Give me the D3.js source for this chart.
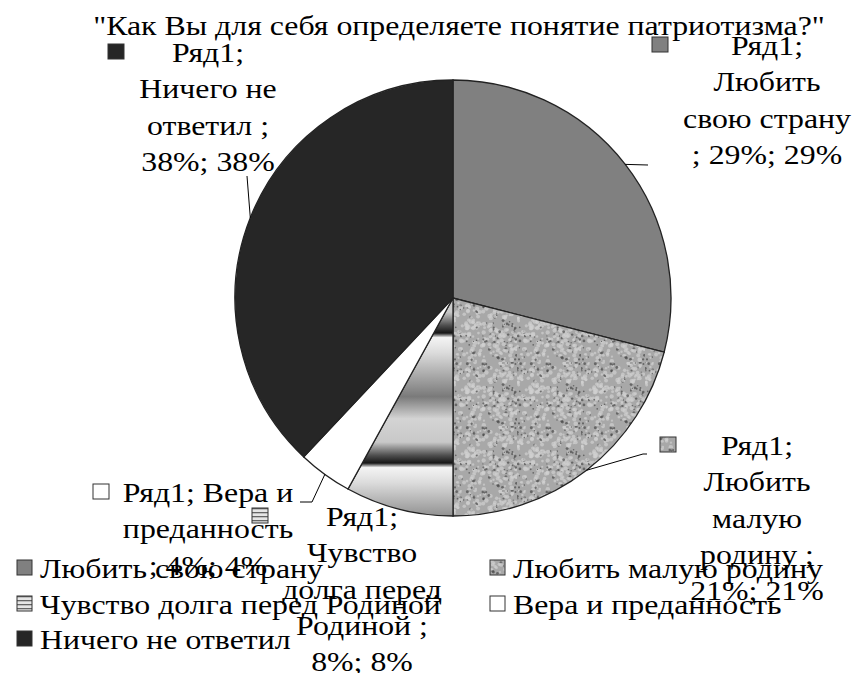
<!DOCTYPE html>
<html lang="ru">
<head>
<meta charset="utf-8">
<script src="https://cdn.jsdelivr.net/npm/d3@7"></script>
</head>
<body style="margin:0">
<svg id="pfig" width="853" height="673"></svg>
<script>
// chart data
var chartTitle = '"Как Вы для себя определяете понятие патриотизма?"';
var seriesName = "Ряд1";
var categories = ["Любить свою страну", "Любить малую родину", "Чувство долга перед Родиной", "Вера и преданность", "Ничего не ответил"];
var values = [29, 21, 8, 4, 38];

var cx = 453, cy = 298, radius = 218;
var serifFont = "'Liberation Serif', 'Times New Roman', serif";
var fills = ["#808080", "url(#speckPat)", "url(#chromePat)", "#ffffff", "#262626"];
var keyFills = ["#808080", "url(#speckPat)", "url(#stripePat)", "#ffffff", "#262626"];

// label layout: centre x, first baseline, key square x, words per line, leader bend points
var labelLayout = [
  {x: 767, y: 55, kx: 652, words: [1, 1, 2, 3], leader: [[648, 165]]},
  {x: 757, y: 455, kx: 660, words: [1, 1, 1, 2, 2], leader: [[643, 454], [647, 454]]},
  {x: 362, y: 526, kx: 252, words: [1, 1, 2, 2, 2], leader: null},
  {x: 208, y: 502, kx: 93, words: [3, 1, 3], leader: [[312, 502], [300, 502]]},
  {x: 208, y: 62, kx: 108, words: [1, 2, 2, 2], leader: [[247, 176]]}
];
var lineH = 36.3;
var titleWidth = 732;

var svg = d3.select("#pfig");
var defs = svg.append("defs");

// speckled texture built from small dots (fixed seed so it is always the same)
var seed = 12345;
function lcg(){ seed = (seed * 1103515245 + 12345) % 2147483648; return seed / 2147483648; }
var speck = defs.append("pattern").attr("id", "speckPat").attr("patternUnits", "userSpaceOnUse")
  .attr("width", 64).attr("height", 64);
speck.append("rect").attr("width", 64).attr("height", 64).attr("fill", "#a8a8a8");
for (var k = 0; k < 320; k++) {
  var light = k % 3 !== 0;
  speck.append("circle").attr("cx", lcg() * 64).attr("cy", lcg() * 64)
    .attr("r", light ? 1.0 + lcg() * 1.3 : 0.6 + lcg() * 0.9)
    .attr("fill", light ? "#d0d0d0" : "#4a4a4a").attr("opacity", 0.7);
}

// chrome bands (pattern space is the pie group, origin at the centre)
var grad = defs.append("linearGradient").attr("id", "chromeGrad").attr("x1", 0).attr("y1", 0).attr("x2", 0).attr("y2", 1);
[[0, "#161616"], [0.035, "#f4f4f4"], [0.15, "#dcdcdc"], [0.49, "#7a7a7a"], [0.66, "#d4d4d4"], [0.84, "#c8c8c8"], [0.94, "#505050"], [1, "#161616"]]
  .forEach(function(s){ grad.append("stop").attr("offset", s[0]).attr("stop-color", s[1]); });
defs.append("pattern").attr("id", "chromePat").attr("patternUnits", "userSpaceOnUse")
  .attr("x", 0).attr("y", 35).attr("width", 20).attr("height", 130)
  .append("rect").attr("width", 20).attr("height", 130).attr("fill", "url(#chromeGrad)");
var sp = defs.append("pattern").attr("id", "stripePat").attr("patternUnits", "userSpaceOnUse")
  .attr("width", 4).attr("height", 4);
sp.append("rect").attr("width", 4).attr("height", 4).attr("fill", "#e6e6e6");
sp.append("rect").attr("width", 4).attr("height", 1.3).attr("fill", "#666");

function serifText(sel){
  return sel.attr("font-family", "Liberation Serif")
    .style("font-family", serifFont, "important").style("font-size", "28px", "important").style("fill", "#000");
}

// horizontal stretch so the text widths follow the reference title width
var probe = serifText(svg.append("text")).attr("opacity", 0).text(chartTitle);
var sx = titleWidth / probe.node().getComputedTextLength();
probe.remove();

function stretched(x, y){
  return svg.append("g").attr("transform", "translate(" + x + "," + y + ") scale(" + sx + ",1)");
}

// title
serifText(stretched(459, 35).append("text").attr("text-anchor", "middle")).text(chartTitle);

// pie
var pie = d3.pie().sort(null).value(function(d){ return d; });
var arcs = pie(values);
var arc = d3.arc().innerRadius(0).outerRadius(radius);
var pg = svg.append("g").attr("transform", "translate(" + cx + "," + cy + ")");
pg.selectAll("path").data(arcs).enter().append("path")
  .attr("d", arc)
  .attr("fill", function(d, i){ return fills[i]; })
  .attr("stroke", "#222").attr("stroke-width", 1.3);

// leader lines from slice midpoints on the rim
arcs.forEach(function(d, i){
  var L = labelLayout[i];
  if (!L.leader) return;
  var a = (d.startAngle + d.endAngle) / 2;
  var pts = [[cx + radius * Math.sin(a), cy - radius * Math.cos(a)]].concat(L.leader);
  svg.append("path").attr("d", d3.line()(pts)).attr("fill", "none").attr("stroke", "#000").attr("stroke-width", 1);
});

// legend
var legX = [17, 490], legY = [578, 614, 649];
categories.forEach(function(c, i){
  var col = i % 2, row = Math.floor(i / 2);
  svg.append("rect").attr("x", legX[col]).attr("y", legY[row] - 18).attr("width", 15).attr("height", 15)
    .attr("fill", keyFills[i]).attr("stroke", "#333").attr("stroke-width", 1);
  serifText(stretched(legX[col] + 23, legY[row]).append("text")).text(c);
});

// data labels
categories.forEach(function(c, i){
  var L = labelLayout[i];
  var words = (seriesName + "; " + c + " ; " + values[i] + "%; " + values[i] + "%").split(" ");
  var lines = [], pos = 0;
  L.words.forEach(function(n){ lines.push(words.slice(pos, pos + n).join(" ")); pos += n; });
  var t = serifText(stretched(L.x, L.y).append("text").attr("text-anchor", "middle"));
  lines.forEach(function(l, j){
    t.append("tspan").attr("x", 0).attr("y", j * lineH).text(l);
  });
  svg.append("rect").attr("x", L.kx).attr("y", L.y - 18).attr("width", 16).attr("height", 15)
    .attr("fill", keyFills[i]).attr("stroke", "#333").attr("stroke-width", 1);
});
</script>
</body>
</html>
